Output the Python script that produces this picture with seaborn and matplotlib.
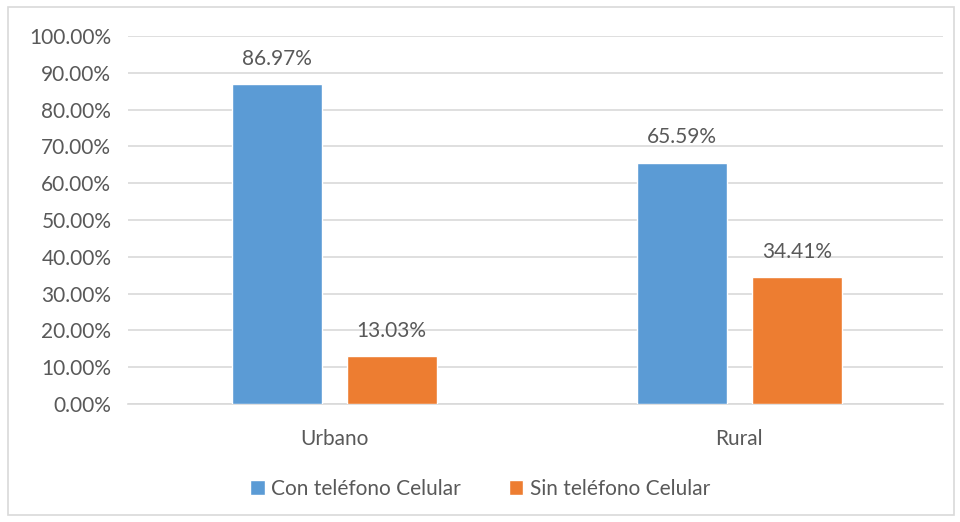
import matplotlib
matplotlib.use("Agg")
import matplotlib.pyplot as plt
import seaborn as sns
import pandas as pd
from matplotlib.patches import Rectangle
from matplotlib.ticker import FuncFormatter

categories = ["Urbano", "Rural"]
series = ["Con teléfono Celular", "Sin teléfono Celular"]
con_celular = [86.97, 65.59]
sin_celular = [13.03, 34.41]
colors = ["#5B9BD5", "#ED7D31"]

df = pd.DataFrame({
    "zona": categories * 2,
    "serie": [series[0]] * 2 + [series[1]] * 2,
    "valor": con_celular + sin_celular,
})

sns.set_theme(style="white")
plt.rcParams["font.family"] = ["Lato", "DejaVu Sans"]
text_color = "#595959"
fs = 15

fig = plt.figure(figsize=(9.6, 5.22), dpi=100)
ax = fig.add_axes([0.1333, 0.226, 0.849, 0.705])

sns.barplot(data=df, x="zona", y="valor", hue="serie", order=categories,
            hue_order=series, palette=colors, width=0.568, gap=0.218,
            saturation=1, ax=ax, legend=True, zorder=3)

ax.set_ylim(0, 100)
ax.set_xlim(-0.509, 1.503)
ax.set_yticks(range(0, 101, 10))
ax.yaxis.set_major_formatter(FuncFormatter(lambda v, p: f"{v:.2f}%"))
ax.grid(axis="y", color="#D9D9D9", linewidth=1.2, zorder=0)
ax.set_axisbelow(True)
for s in ["top", "right", "left"]:
    ax.spines[s].set_visible(False)
ax.spines["bottom"].set_color("#D9D9D9")
ax.spines["bottom"].set_linewidth(1.2)
ax.set_xlabel("")
ax.set_ylabel("")
ax.tick_params(axis="y", labelsize=fs, labelcolor=text_color, length=0, pad=12)
ax.tick_params(axis="x", labelsize=fs, labelcolor=text_color, length=0, pad=18)

for cont in ax.containers:
    ax.bar_label(cont, labels=[f"{v:.2f}%" for v in cont.datavalues],
                 padding=11, fontsize=fs, color=text_color)

handles, labels = ax.get_legend_handles_labels()
ax.legend_.remove()
fig.legend(handles, labels, loc="center", bbox_to_anchor=(0.5, 0.064),
           ncol=2, frameon=False, fontsize=fs, labelcolor=text_color,
           handlelength=0.7, handleheight=0.7, handletextpad=0.3,
           columnspacing=2.3)

fig.patches.append(Rectangle((8 / 960, 7 / 522), 946 / 960, 508 / 522,
                             transform=fig.transFigure, fill=False,
                             edgecolor="#D9D9D9", linewidth=1.2))

fig.savefig("out.png", dpi=100)
